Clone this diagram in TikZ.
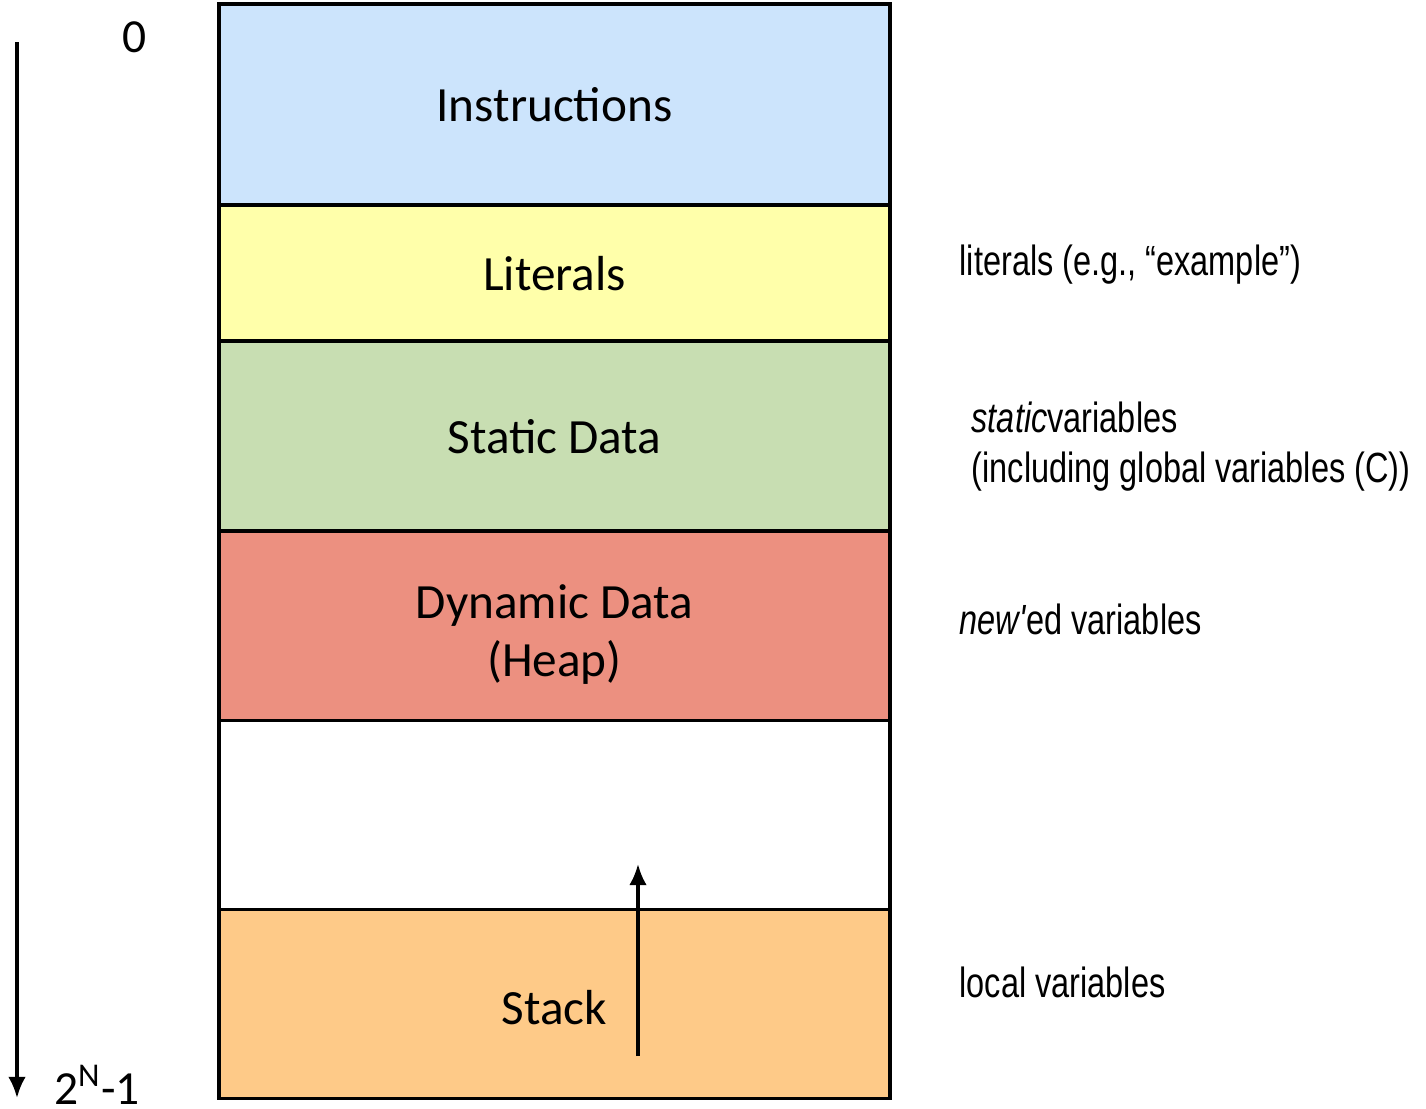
\documentclass[tikz,border=0pt]{standalone}
\usepackage{fontspec}
\setmainfont{Carlito}
\newfontfamily\notefont[FakeStretch=0.77]{Liberation Sans}
\usetikzlibrary{arrows.meta,calc,positioning}

\definecolor{instrblue}{RGB}{204,228,252}
\definecolor{lityellow}{RGB}{255,255,170}
\definecolor{statgreen}{RGB}{200,222,178}
\definecolor{heapred}{RGB}{236,144,128}
\definecolor{stackorange}{RGB}{254,202,136}

\tikzset{
  segment/.style={draw,line width=1pt,minimum width=6.71cm,inner sep=0pt,outer sep=0pt,
    font=\fontsize{14}{16.4}\selectfont,align=center},
  note/.style={anchor=west,font=\notefont\fontsize{12}{14.2}\selectfont,align=left,inner sep=0pt},
  addr/.style={font=\fontsize{13.5}{16}\selectfont,inner sep=0pt}
}

\begin{document}
\begin{tikzpicture}[x=0.01cm,y=-0.01cm,>={Latex[length=6pt,width=5pt]},node distance=0pt]
		\useasboundingbox (0,0) rectangle (1426,1109);
		\node[segment,fill=instrblue,minimum height=2.01cm] (instr) at (554.5,104.5) {Instructions};
		\node[segment,fill=lityellow,minimum height=1.36cm] [below=of instr] (lits) {Literals};
		\node[segment,fill=statgreen,minimum height=1.90cm] [below=of lits] (statdata) {Static Data};
		\node[segment,fill=heapred,minimum height=1.89cm] [below=of statdata] (heap) {\rule{0pt}{14.5pt}Dynamic Data\\(Heap)};
		\node[segment,fill=white,minimum height=1.89cm] [below=of heap] (gap) {};
		\node[segment,fill=stackorange,minimum height=1.89cm] [below=of gap] (stack) {\rule{0pt}{12pt}Stack};
		% growth of the stack
		\coordinate (growtail) at (638,1056);
		\coordinate (growtip) at (638,864);
		\draw[->,line width=1pt] (growtail) -- (growtip);
		% address axis
		\coordinate (addrtop) at (17,42);
		\coordinate (addrbot) at (17,1098);
		\draw[->,line width=1pt] (addrtop) -- (addrbot);
		\node[addr] (zero) at (135,37) {0};
		\node[addr] (maxaddr) at (97,1085) {2\textsuperscript{N}-1};
		% what lives where
		\node[note] (litnote) at (959,265) {literals (e.g., “example”)};
		\node[note] (statnote) at (971,447) {\textit{static}variables\\(including global variables (C))};
		\node[note] (heapnote) at (959,619) {\textit{new'}ed variables};
		\node[note] (stacknote) at (959,982) {local variables};
	\end{tikzpicture}
\end{document}
